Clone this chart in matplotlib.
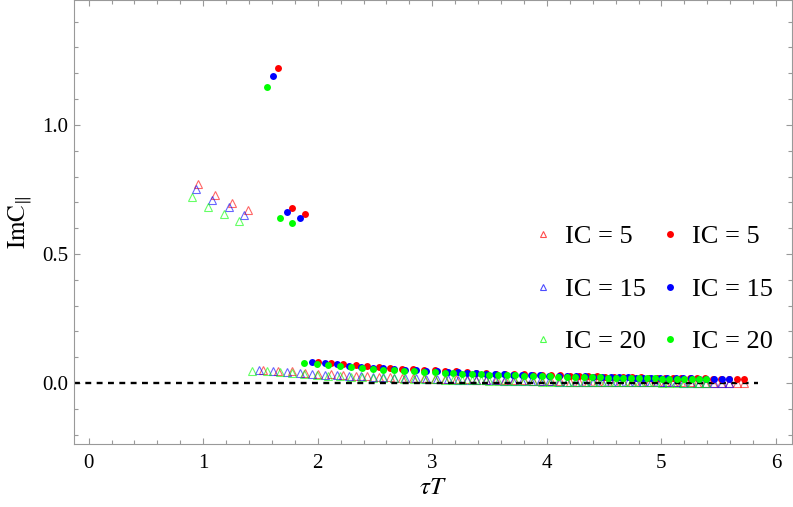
import matplotlib
matplotlib.use("Agg")
import matplotlib.pyplot as plt
from matplotlib.lines import Line2D
from matplotlib.ticker import MultipleLocator, FormatStrFormatter

# valores de tau*T para cada IC (triangulos: todos, circulos: desde el indice 5)
x_ic5 = [0.956, 1.107, 1.252, 1.391, 1.519, 1.651, 1.771, 1.888,
         2.000, 2.114, 2.223, 2.331, 2.433, 2.538, 2.634, 2.733, 2.831, 2.925,
         3.020, 3.113, 3.211, 3.300, 3.381, 3.465, 3.552, 3.636, 3.713, 3.797,
         3.877, 3.954, 4.035, 4.118, 4.201, 4.279, 4.355, 4.434, 4.510, 4.588,
         4.665, 4.743, 4.819, 4.891, 4.958, 5.030, 5.104, 5.175, 5.246, 5.314,
         5.382, 5.453, 5.521, 5.592, 5.660, 5.723]
x_ic15 = [0.933, 1.081, 1.223, 1.358, 1.483, 1.613, 1.730, 1.844,
          1.953, 2.065, 2.170, 2.276, 2.376, 2.478, 2.572, 2.668, 2.765, 2.856,
          2.949, 3.039, 3.136, 3.222, 3.302, 3.384, 3.469, 3.551, 3.625, 3.707,
          3.786, 3.861, 3.940, 4.021, 4.102, 4.178, 4.253, 4.329, 4.404, 4.480,
          4.556, 4.631, 4.706, 4.775, 4.842, 4.911, 4.984, 5.053, 5.123, 5.189,
          5.256, 5.325, 5.391, 5.461, 5.527, 5.588]
x_ic20 = [0.900, 1.042, 1.179, 1.310, 1.430, 1.555, 1.668, 1.778,
          1.883, 1.991, 2.093, 2.195, 2.291, 2.390, 2.480, 2.573, 2.666, 2.754,
          2.844, 2.931, 3.024, 3.107, 3.184, 3.263, 3.345, 3.424, 3.496, 3.575,
          3.651, 3.723, 3.799, 3.878, 3.956, 4.029, 4.101, 4.175, 4.247, 4.320,
          4.393, 4.466, 4.538, 4.605, 4.669, 4.736, 4.806, 4.873, 4.940, 5.004,
          5.068, 5.135, 5.199, 5.266, 5.330, 5.389]

# ImC para los triangulos
tri_ic5 = [0.772, 0.730, 0.699, 0.671,
           0.050, 0.048, 0.045, 0.040, 0.037, 0.034, 0.031, 0.029, 0.027, 0.024,
           0.022, 0.021, 0.019, 0.018, 0.017, 0.016, 0.015, 0.014, 0.013, 0.012,
           0.012, 0.011, 0.010, 0.010, 0.008, 0.008, 0.007, 0.007, 0.006, 0.006,
           0.006, 0.005, 0.005, 0.005, 0.004, 0.004, 0.004, 0.004, 0.003, 0.003,
           0.003, 0.003, 0.003, 0.002, 0.002, 0.002, 0.002, 0.002, 0.002, 0.002]
tri_ic15 = [0.752, 0.710, 0.683, 0.652,
            0.049, 0.047, 0.044, 0.039, 0.036, 0.033, 0.030, 0.028, 0.026, 0.024,
            0.022, 0.021, 0.019, 0.018, 0.017, 0.016, 0.015, 0.013, 0.012, 0.011,
            0.011, 0.010, 0.009, 0.009, 0.008, 0.008, 0.007, 0.007, 0.006, 0.006,
            0.006, 0.005, 0.005, 0.005, 0.004, 0.004, 0.004, 0.004, 0.003, 0.003,
            0.003, 0.003, 0.003, 0.002, 0.002, 0.002, 0.002, 0.002, 0.002, 0.002]
tri_ic20 = [0.722, 0.683, 0.656, 0.629,
            0.047, 0.045, 0.042, 0.038, 0.035, 0.032, 0.029, 0.027, 0.025, 0.023,
            0.021, 0.020, 0.018, 0.017, 0.016, 0.015, 0.014, 0.013, 0.012, 0.011,
            0.011, 0.010, 0.009, 0.009, 0.008, 0.008, 0.007, 0.007, 0.006, 0.006,
            0.006, 0.005, 0.005, 0.005, 0.004, 0.004, 0.004, 0.004, 0.003, 0.003,
            0.003, 0.003, 0.003, 0.002, 0.002, 0.002, 0.002, 0.002, 0.002, 0.002]

# ImC para los circulos
circ_ic5 = [1.221, 0.678, 0.656,
            0.082, 0.077, 0.073, 0.069, 0.065, 0.061, 0.058, 0.055, 0.053, 0.051,
            0.049, 0.047, 0.045, 0.042, 0.040, 0.039, 0.037, 0.036, 0.035, 0.034,
            0.033, 0.032, 0.031, 0.030, 0.029, 0.028, 0.027, 0.026, 0.025, 0.024,
            0.023, 0.023, 0.022, 0.021, 0.021, 0.020, 0.020, 0.019, 0.019, 0.018,
            0.018, 0.017, 0.017, 0.016, 0.016, 0.016]
circ_ic15 = [1.190, 0.662, 0.641,
             0.080, 0.076, 0.072, 0.067, 0.063, 0.060, 0.057, 0.054, 0.052, 0.050,
             0.048, 0.046, 0.044, 0.041, 0.039, 0.038, 0.036, 0.035, 0.034, 0.033,
             0.032, 0.031, 0.030, 0.029, 0.028, 0.027, 0.026, 0.026, 0.025, 0.024,
             0.023, 0.023, 0.022, 0.021, 0.021, 0.020, 0.020, 0.019, 0.019, 0.018,
             0.018, 0.017, 0.017, 0.016, 0.016, 0.016]
circ_ic20 = [1.147, 0.641, 0.620,
             0.077, 0.073, 0.069, 0.065, 0.061, 0.058, 0.055, 0.052, 0.050, 0.048,
             0.046, 0.044, 0.042, 0.040, 0.038, 0.037, 0.035, 0.034, 0.033, 0.032,
             0.031, 0.030, 0.029, 0.028, 0.027, 0.026, 0.025, 0.025, 0.024, 0.023,
             0.022, 0.022, 0.021, 0.020, 0.020, 0.019, 0.019, 0.018, 0.018, 0.017,
             0.017, 0.016, 0.016, 0.015, 0.015, 0.015]

etiquetas = ["IC = 5", "IC = 15", "IC = 20"]
colores = ["#ff0000", "#0000ff", "#00ff00"]
inicio_circ = 5
fin_linea_cero = 5.84

plt.rcParams['font.family'] = ['Liberation Serif', 'DejaVu Serif']
plt.rcParams['mathtext.fontset'] = 'stix'

fig = plt.figure(figsize=(7.93, 5.07), dpi=100)
ax = fig.add_axes([74 / 793, 63 / 507, 718 / 793, 444 / 507])

xs = [x_ic5, x_ic15, x_ic20]
tris = [tri_ic5, tri_ic15, tri_ic20]
circs = [circ_ic5, circ_ic15, circ_ic20]

# triangulos abiertos (claros)
for xv, yv, c in zip(xs, tris, colores):
    ax.plot(xv, yv, linestyle='none', marker='^', ms=5.5, mfc='none',
            mec=c, mew=0.8, alpha=0.6, zorder=2)

xmin, xmax = -0.128, 6.14
ax.axhline(0, xmin=0, xmax=(fin_linea_cero - xmin) / (xmax - xmin),
           color='black', lw=1.7, linestyle=(0, (2.5, 2.3)), zorder=2.5)

# circulos rellenos
for xv, yv, c in zip(xs, circs, colores):
    ax.plot(xv[inicio_circ:], yv, linestyle='none', marker='o', ms=5,
            mfc=c, mec=c, mew=0, zorder=3)

ax.set_xlim(xmin, xmax)
ax.set_ylim(-0.236, 1.484)

ax.xaxis.set_major_locator(MultipleLocator(1))
ax.xaxis.set_minor_locator(MultipleLocator(0.2))
ax.yaxis.set_major_locator(MultipleLocator(0.5))
ax.yaxis.set_minor_locator(MultipleLocator(0.1))
ax.yaxis.set_major_formatter(FormatStrFormatter('%.1f'))

gris = '#999999'
ax.tick_params(which='both', direction='in', top=True, right=True,
               color=gris, width=0.8, labelsize=15, labelcolor='black')
ax.tick_params(which='major', length=4.5)
ax.tick_params(which='minor', length=2.8)
ax.tick_params(axis='x', pad=7)
ax.tick_params(axis='y', pad=4.3)
for s in ax.spines.values():
    s.set_color(gris)
    s.set_linewidth(0.8)

ax.set_xlabel(r'$\tau T$', fontsize=18, labelpad=3)
ax.set_ylabel(r'$\mathrm{ImC}_{\|}$', fontsize=18, labelpad=6)

# leyenda de dos columnas
handles = []
for c in colores:
    handles.append(Line2D([], [], linestyle='none', marker='^', ms=4, mfc='none',
                          mec=c, mew=0.8, alpha=0.7))
for c in colores:
    handles.append(Line2D([], [], linestyle='none', marker='o', ms=5, mfc=c, mec=c, mew=0))
ax.legend(handles, etiquetas * 2, ncol=2, loc='center left', bbox_to_anchor=(0.639, 0.349),
          frameon=False, fontsize=19, borderpad=0, borderaxespad=0,
          handlelength=0.76, handletextpad=0.45, columnspacing=0.55, labelspacing=1.1)

plt.savefig("out.png", dpi=100)
